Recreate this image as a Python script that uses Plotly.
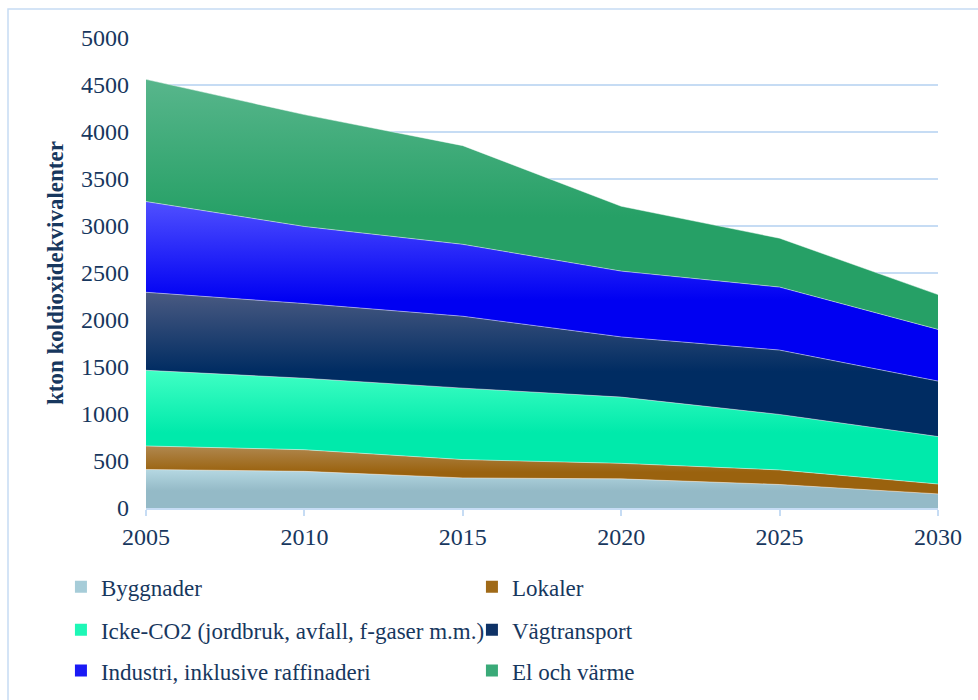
import plotly.graph_objects as go

years = [2005, 2010, 2015, 2020, 2025, 2030]
series_names = ["Byggnader", "Lokaler", "Icke-CO2 (jordbruk, avfall, f-gaser m.m.)",
                "Vägtransport", "Industri, inklusive raffinaderi", "El och värme"]
byggnader = [410, 390, 320, 310, 250, 150]
lokaler = [250, 230, 195, 165, 155, 105]
icke_co2 = [805, 760, 760, 705, 590, 505]
vagtransport = [830, 795, 765, 640, 685, 590]
industri = [965, 820, 765, 700, 670, 550]
el_varme = [1300, 1190, 1050, 690, 520, 370]
y_ticks = [0, 500, 1000, 1500, 2000, 2500, 3000, 3500, 4000, 4500, 5000]

values = [byggnader, lokaler, icke_co2, vagtransport, industri, el_varme]
# (bottom colour, top colour, legend swatch colour)
colors = [("#94BAC7", "#B5D8E2", "#A6CCD8"),
          ("#9A620E", "#B08850", "#A06A18"),
          ("#00EAAB", "#40FFC4", "#1EF7B6"),
          ("#002C62", "#4A5A82", "#0E3266"),
          ("#0000F2", "#5050FF", "#1A1AF5"),
          ("#26A066", "#58B68C", "#3AAA78")]

TXT = "#17375E"
GRID = "#C6DCF4"
FONT = "Liberation Serif, Times New Roman, serif"

fig = go.Figure()
for name, vals, (cb, ct, cs) in zip(series_names, values, colors):
    fig.add_trace(go.Scatter(
        x=years, y=vals, name=name, stackgroup="one", mode="lines",
        line=dict(color="rgba(255,255,255,0.45)", width=1),
        fillcolor=cs,
        fillgradient=dict(type="vertical",
                          colorscale=[[0, cb], [0.45, cb], [1, ct]]),
        showlegend=False, hoverinfo="x+y+name"))

legend_ids = ["legend", "legend", "legend2", "legend2", "legend3", "legend3"]
for name, (cb, ct, cs), lid in zip(series_names, colors, legend_ids):
    fig.add_trace(go.Scatter(
        x=[None], y=[None], mode="markers", name=name, legend=lid,
        marker=dict(symbol="square", size=12, color=cs)))

leg_common = dict(orientation="h", xanchor="left", yanchor="middle",
                  x=-0.1074, entrywidth=366, entrywidthmode="pixels",
                  traceorder="normal",
                  font=dict(family=FONT, size=23, color=TXT),
                  bgcolor="rgba(0,0,0,0)", itemclick=False)

fig.update_layout(
    width=978, height=700,
    margin=dict(l=146, r=40, t=38, b=192, autoexpand=False),
    paper_bgcolor="white", plot_bgcolor="white",
    font=dict(family=FONT, size=24, color=TXT),
    showlegend=True,
    legend=dict(y=(509 - 588) / 471, **leg_common),
    legend2=dict(y=(509 - 631) / 471, **leg_common),
    legend3=dict(y=(509 - 672) / 471, **leg_common),
    xaxis=dict(range=[2005, 2030], tickvals=years, ticktext=[str(y) for y in years],
               showgrid=False, zeroline=False, showline=True, linecolor=GRID,
               linewidth=1.5, ticks="outside", ticklen=6, tickcolor=GRID,
               tickwidth=1.5, ticklabelstandoff=0, automargin=False,
               tickfont=dict(family=FONT, size=24, color=TXT)),
    yaxis=dict(range=[0, 5000], tickvals=y_ticks, showgrid=True, gridcolor=GRID,
               gridwidth=1.5, zeroline=False, showline=False, ticks="",
               ticklabelstandoff=16, automargin=False,
               tickfont=dict(family=FONT, size=24, color=TXT),
               title=dict(text="<b>kton koldioxidekvivalenter</b>",
                          font=dict(family=FONT, size=23, color=TXT), standoff=10)),
    shapes=[dict(type="rect", xref="paper", yref="paper",
                 x0=(8 - 146) / 792, x1=(1000 - 146) / 792,
                 y0=(509 - 760) / 471, y1=(509 - 9) / 471,
                 line=dict(color=GRID, width=1.5), layer="below")],
)

fig.write_html("out.html")
